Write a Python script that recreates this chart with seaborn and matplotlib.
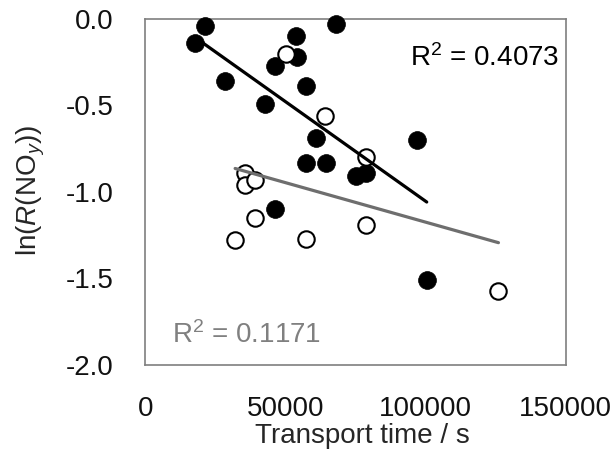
import seaborn as sns
import matplotlib.pyplot as plt

# filled circles (first group)
time_filled = [17700, 21200, 28500, 42600, 46100, 46200, 53700, 54200, 57300, 57300,
               60900, 64300, 68000, 75200, 78700, 97000, 100400]
lnr_filled = [-0.14, -0.04, -0.36, -0.49, -0.27, -1.10, -0.10, -0.22, -0.39, -0.83,
              -0.69, -0.83, -0.03, -0.91, -0.89, -0.70, -1.51]

# open circles (second group)
time_open = [32000, 35500, 35500, 39100, 39100, 50200, 57200, 64200, 78600, 78600, 126000]
lnr_open = [-1.28, -0.89, -0.96, -0.93, -1.15, -0.20, -1.27, -0.56, -0.80, -1.19, -1.57]

r2_filled = "R$^2$ = 0.4073"
r2_open = "R$^2$ = 0.1171"

sns.set_style("white")
plt.rcParams['font.family'] = ['Liberation Sans', 'DejaVu Sans']
plt.rcParams['mathtext.fontset'] = 'custom'
plt.rcParams['mathtext.rm'] = 'Liberation Sans'
plt.rcParams['mathtext.it'] = 'Liberation Sans:italic'

fig = plt.figure(figsize=(6.16, 4.5), dpi=100)
ax = fig.add_axes([0.2362, 0.1889, 0.6821, 0.7689])

sns.scatterplot(x=time_filled, y=lnr_filled, color='black', edgecolor='black',
                s=165, linewidth=0.5, clip_on=False, zorder=3, ax=ax)
sns.scatterplot(x=time_open, y=lnr_open, color='white', edgecolor='black',
                s=140, linewidth=1.5, clip_on=False, zorder=4, ax=ax)

# linear trendlines
sns.regplot(x=time_filled, y=lnr_filled, scatter=False, ci=None, color='black',
            line_kws={'lw': 2.3, 'zorder': 5}, ax=ax)
sns.regplot(x=time_open, y=lnr_open, scatter=False, ci=None, color='#6e6e6e',
            line_kws={'lw': 2.3, 'zorder': 5}, ax=ax)

ax.text(0.985, 0.864, r2_filled, transform=ax.transAxes, ha='right', va='baseline',
        fontsize=20, color='black')
ax.text(0.062, 0.064, r2_open, transform=ax.transAxes, ha='left', va='baseline',
        fontsize=20, color='#808080')

ax.set_xlim(0, 150000)
ax.set_ylim(-2.0, 0.0)
ax.set_xticks([0, 50000, 100000, 150000])
ax.set_yticks([-2.0, -1.5, -1.0, -0.5, 0.0])
ax.set_yticklabels(['-2.0', '-1.5', '-1.0', '-0.5', '0.0'])
ax.tick_params(axis='both', direction='in', length=7, width=1, color='#7f7f7f',
               labelsize=20, labelcolor='#111111')
ax.tick_params(axis='x', pad=22)
ax.tick_params(axis='y', pad=23)

for sp in ax.spines.values():
    sp.set_color('#7f7f7f')
    sp.set_linewidth(1.2)

ax.set_xlabel('Transport time / s', fontsize=20)
ax.set_ylabel(r'ln($\mathit{R}$(NO$_y$))', fontsize=20)
ax.xaxis.set_label_coords(0.5164, -0.168)
ax.yaxis.set_label_coords(-0.235, 0.506)

fig.savefig('out.png', dpi=100)
